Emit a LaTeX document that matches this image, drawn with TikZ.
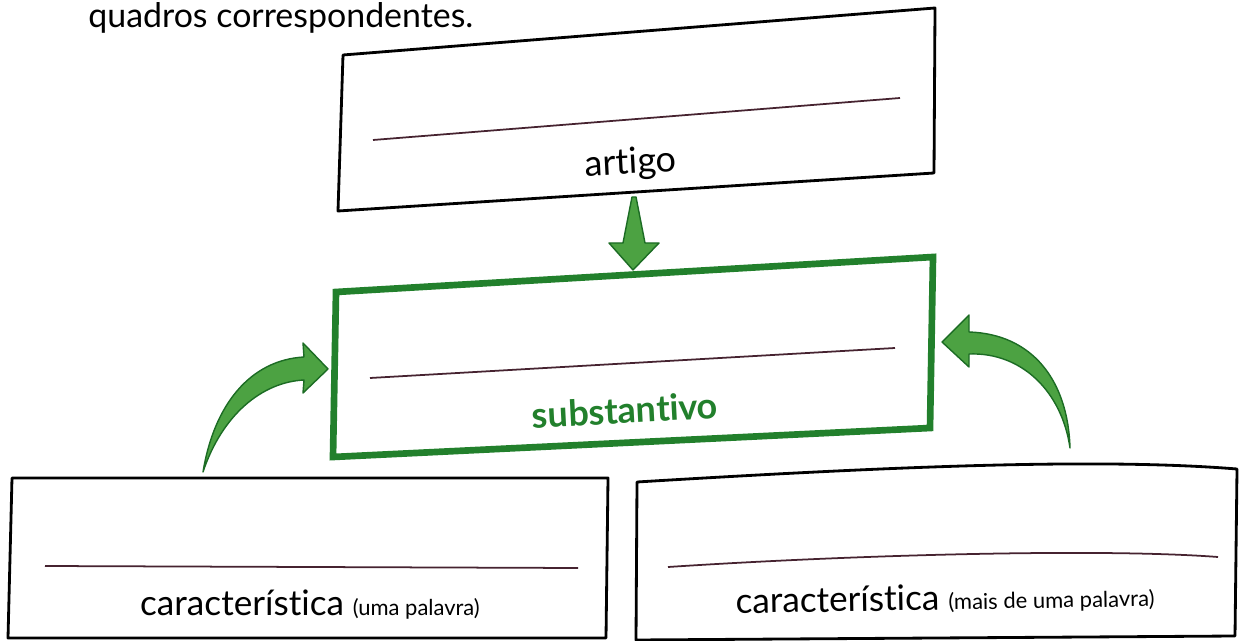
\documentclass[tikz,border=0pt]{standalone}
\usepackage{fontspec}
\setmainfont{Lato}[Ligatures=NoCommon]
\definecolor{boxgreen}{RGB}{34,128,44}
\definecolor{arrowfill}{RGB}{76,162,66}
\definecolor{arrowedge}{RGB}{28,108,36}
\definecolor{rulecol}{RGB}{70,35,48}
\begin{document}
\begin{tikzpicture}[x=0.02cm,y=-0.02cm,
  blackbox/.style={draw=black, line width=1.6pt, line join=round, fill=white},
  greenbox/.style={draw=boxgreen, line width=3.8pt, line join=miter, fill=white},
  answerline/.style={draw=rulecol, line width=1pt},
  greenarrow/.style={fill=arrowfill, draw=arrowedge, line width=0.8pt, line join=round},
  lbl/.style={font=\fontsize{20}{24}\selectfont, inner sep=0pt},
  sml/.style={font=\fontsize{12.5}{15}\selectfont}]
\useasboundingbox (0,0) rectangle (1250,641);

% heading
\node[lbl, anchor=base west, font=\fontsize{19.3}{22}\selectfont] (head) at (88,28) {quadros correspondentes.};

% artigo box
\coordinate (a1) at (343,55); \coordinate (a2) at (935,8);
\coordinate (a3) at (934,173); \coordinate (a4) at (338,211);
\draw[blackbox] (a1) -- (a2) -- (a3) -- (a4) -- cycle;
\coordinate (al1) at (373,140); \coordinate (al2) at (900,98);
\draw[answerline] (al1) -- (al2);
\node[lbl, rotate=3, font=\fontsize{20.5}{24}\selectfont] (artigo) at (631,164) {artigo};

% substantivo box
\coordinate (s1) at (336,292); \coordinate (s2) at (933,257);
\coordinate (s3) at (930,428); \coordinate (s4) at (333,457);
\draw[greenbox] (s1) -- (s2) -- (s3) -- (s4) -- cycle;
\coordinate (sl1) at (370,378); \coordinate (sl2) at (895,348);
\draw[answerline] (sl1) -- (sl2);
\node[lbl, rotate=3, text=boxgreen, font=\fontsize{20.5}{24}\selectfont\bfseries] (subst) at (625,410) {substantivo};

% bottom-left box
\coordinate (b1) at (12,478); \coordinate (b2) at (608,478);
\coordinate (b3) at (606,638); \coordinate (b4) at (8,638);
\draw[blackbox] (b1) -- (b2) -- (b3) -- (b4) -- cycle;
\coordinate (bl1) at (45,566); \coordinate (bl2) at (578,568);
\draw[answerline] (bl1) -- (bl2);
\node[lbl] (carac1) at (310,605) {característica {\fontsize{12.5}{15}\selectfont (uma palavra)}};

% bottom-right box
\coordinate (c1) at (637,482); \coordinate (c2) at (1237,469);
\coordinate (c3) at (1235,636); \coordinate (c4) at (636,640);
\draw[blackbox] (c1) .. controls (900,466) and (1100,458) .. (c2) -- (c3) -- (c4) -- cycle;
\coordinate (cl1) at (668,567); \coordinate (cl2) at (1218,557);
\draw[answerline] (cl1) .. controls (850,555) and (1100,548) .. (cl2);
\node[lbl, rotate=1] (carac2) at (945,599) {característica {\fontsize{12.5}{15}\selectfont (mais de uma palavra)}};

% down arrow: artigo -> substantivo
\draw[greenarrow] (632,197) -- (636,197) -- (645,243) -- (659,243) -- (633,270) -- (609,243) -- (623,243) -- cycle;

% left curved arrow: bottom-left box -> substantivo
\draw[greenarrow] (203,472) .. controls (214,405) and (250,360) .. (304,357) -- (303,343) -- (328,369) -- (303,393) -- (304,380)
  .. controls (262,382) and (222,415) .. (203,472) -- cycle;

% right curved arrow: bottom-right box -> substantivo
\draw[greenarrow] (1070,448) .. controls (1062,392) and (1022,352) .. (969,354) -- (969,367) -- (942,342) -- (969,315) -- (969,332)
  .. controls (1032,334) and (1068,380) .. (1070,448) -- cycle;
\end{tikzpicture}
\end{document}
